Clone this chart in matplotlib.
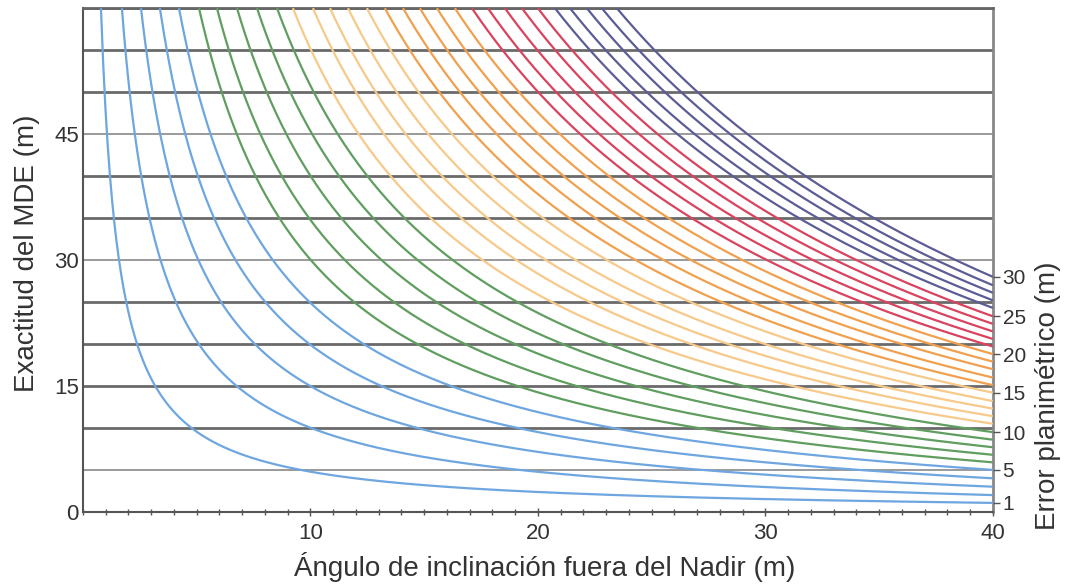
import numpy as np
import matplotlib
matplotlib.use('Agg')
import matplotlib.pyplot as plt

plt.rcParams['font.family'] = ['Liberation Sans', 'DejaVu Sans']

# Error planimétrico de cada curva (m)
error_levels = list(range(1, 31))
# ángulo (grados) donde cada curva sale por arriba (y = 60)
top_angle = [0.79, 1.71, 2.55, 3.38, 4.22, 5.10, 5.89, 6.77, 7.65, 8.53,
             9.23, 10.11, 10.86, 11.65, 12.48, 13.27, 14.07, 14.81, 15.56, 16.35,
             17.10, 17.80, 18.55, 19.30, 20.00, 20.75, 21.41, 22.15, 22.81, 23.47]
end_value = [1.07, 2.0, 3.0, 4.0, 5.0, 5.9, 6.8, 7.7, 8.6, 9.5,
             10.5, 11.4, 12.3, 13.2, 14.2, 15.1, 16.0, 17.0, 17.9, 18.8,
             19.7, 20.6, 21.5, 22.4, 23.3, 24.3, 25.2, 26.1, 27.0, 28.0]
group_colors = ['#6ea6e0', '#5f9e5f', '#f7c98a', '#f0a04e', '#d9435e', '#5c5c96']

right_labels = [1, 5, 10, 15, 20, 25, 30]
left_ticks = [0, 15, 30, 45]
grid_levels = [5, 10, 15, 20, 25, 30, 35, 40, 45, 50, 55, 60]

x_max, y_max = 40, 60

fig = plt.figure(figsize=(10.71, 5.85), dpi=100)
ax = fig.add_axes([0.0775, 0.125, 0.8495, 0.861])

for g in grid_levels:
    light = g in (5, 45, 30)
    ax.axhline(g, color='#9a9a9a' if light else '#6a6a6a',
               lw=1.4 if light else 2.0, zorder=1)

for i, e in enumerate(error_levels):
    t0 = top_angle[i]
    th = np.linspace(t0, x_max, 400)
    c_top = y_max * np.tan(np.radians(t0))
    c_end = end_value[i] * np.tan(np.radians(x_max))
    c = c_top + (c_end - c_top) * (th - t0) / (x_max - t0)
    y = c / np.tan(np.radians(th))
    ax.plot(th, y, color=group_colors[(e - 1) // 5], lw=1.6, zorder=3,
            solid_capstyle='butt')

ax.set_xlim(0, x_max)
ax.set_ylim(0, y_max)
ax.set_xticks([10, 20, 30, 40])
ax.set_xticks(range(0, 41), minor=True)
ax.set_yticks(left_ticks)
ax.tick_params(axis='x', which='major', direction='inout', length=6,
               width=1, colors='#555555', labelsize=16, labelcolor='#333333', pad=5)
ax.tick_params(axis='x', which='minor', direction='inout', length=4,
               width=1, colors='#555555')
ax.tick_params(axis='y', direction='in', length=0, labelsize=16,
               labelcolor='#333333', pad=3)
for s in ['left', 'bottom']:
    ax.spines[s].set_color('#555555')
    ax.spines[s].set_linewidth(1.5)
ax.spines['top'].set_color('#666666')
ax.spines['top'].set_linewidth(2.0)
ax.spines['right'].set_color('#888888')
ax.spines['right'].set_linewidth(2.0)

ax.set_xlabel('Ángulo de inclinación fuera del Nadir (m)', fontsize=20,
              color='#333333')
ax.xaxis.set_label_coords(0.507, -0.08)
ax.set_ylabel('Exactitud del MDE (m)', fontsize=20, color='#333333')
ax.yaxis.set_label_coords(-0.047, 0.514)

ax2 = ax.twinx()
ax2.set_ylim(0, y_max)
ax2.set_yticks([end_value[error_levels.index(v)] for v in right_labels])
ax2.set_yticklabels([str(v) for v in right_labels])
ax2.tick_params(axis='y', direction='out', length=5, width=1, colors='#555555',
                labelsize=15, labelcolor='#333333', pad=2)
for s in ax2.spines.values():
    s.set_visible(False)
ax2.set_ylabel('Error planimétrico (m)', fontsize=20, color='#333333')
ax2.yaxis.set_label_coords(1.046, 0.23)

fig.savefig('out.png', dpi=100)
